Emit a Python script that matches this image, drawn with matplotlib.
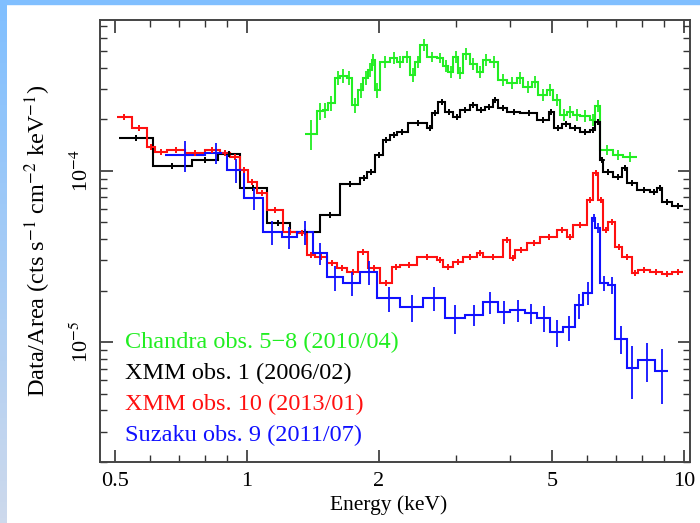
import numpy as np
import matplotlib.pyplot as plt
from matplotlib.colors import LinearSegmentedColormap
from matplotlib.ticker import FixedLocator, NullFormatter

plt.rcParams['font.family'] = ['Liberation Serif', 'DejaVu Serif']
plt.rcParams['mathtext.fontset'] = 'stix'

# %% data (bin edges in keV, flux in cts/s/cm2/keV)

red_edges = [0.504, 0.545, 0.590, 0.616, 0.656, 0.721, 0.801, 0.868, 0.914, 0.964,
             1.005, 1.054, 1.111, 1.209, 1.301, 1.372, 1.431, 1.524, 1.607, 1.694,
             1.795, 1.892, 2.015, 2.147, 2.240, 2.449, 2.722, 2.809, 2.961, 3.120,
             3.359, 3.467, 3.854, 3.999, 4.106, 4.373, 4.683, 5.122, 5.400, 5.572,
             5.998, 6.191, 6.356, 6.526, 6.700, 6.952, 7.213, 7.603, 7.846, 8.360,
             8.906, 9.387, 9.947]
red_flux = [2.07e-4, 1.78e-4, 1.38e-4, 1.29e-4, 1.33e-4, 1.27e-4, 1.33e-4, 1.27e-4, 1.21e-4,
            1.01e-4, 8.62e-5, 7.43e-5, 5.92e-5, 4.40e-5, 4.34e-5, 3.23e-5, 3.14e-5, 2.90e-5,
            2.71e-5, 2.57e-5, 3.36e-5, 2.71e-5, 2.21e-5, 2.75e-5, 2.82e-5, 3.14e-5, 3.02e-5,
            2.75e-5, 2.94e-5, 3.14e-5, 3.31e-5, 3.14e-5, 3.95e-5, 3.10e-5, 3.45e-5, 3.79e-5,
            4.11e-5, 4.52e-5, 4.11e-5, 4.83e-5, 6.77e-5, 9.74e-5, 6.77e-5, 4.52e-5, 5.04e-5,
            3.60e-5, 3.14e-5, 2.53e-5, 2.64e-5, 2.57e-5, 2.50e-5, 2.57e-5]

black_edges = [0.509, 0.609, 0.748, 0.858, 0.964, 1.111, 1.254, 1.469, 1.633, 1.814,
               1.882, 1.963, 2.047, 2.125, 2.204, 2.336, 2.582, 2.651, 2.736, 2.839,
               2.961, 3.073, 3.237, 3.359, 3.504, 3.655, 3.753, 3.936, 4.216, 4.610,
               4.91, 5.04, 5.258, 5.486, 5.781, 6.094, 6.256, 6.424, 6.526, 6.879,
               7.213, 7.405, 7.806, 8.360, 8.675, 8.906, 9.387, 9.947]
black_flux = [1.56e-4, 1.07e-4, 1.16e-4, 1.26e-4, 7.96e-5, 4.97e-5, 4.40e-5, 5.53e-5, 8.40e-5,
              9.10e-5, 9.87e-5, 1.24e-4, 1.52e-4, 1.62e-4, 1.69e-4, 1.91e-4, 1.78e-4, 2.18e-4,
              2.53e-4, 2.21e-4, 2.07e-4, 2.27e-4, 2.43e-4, 2.27e-4, 2.37e-4, 2.60e-4, 2.34e-4,
              2.21e-4, 2.18e-4, 1.99e-4, 2.21e-4, 1.78e-4, 1.88e-4, 1.78e-4, 1.69e-4, 1.74e-4,
              1.93e-4, 1.16e-4, 9.87e-5, 9.22e-5, 1.04e-4, 8.51e-5, 7.74e-5, 7.54e-5, 7.96e-5,
              6.59e-5, 6.24e-5]

blue_edges = [0.649, 0.801, 0.900, 0.985, 1.088, 1.202, 1.301, 1.416, 1.524, 1.659,
              1.814, 1.984, 2.240, 2.528, 2.839, 3.153, 3.467, 3.753, 3.999, 4.328,
              4.610, 4.936, 5.286, 5.633, 5.875, 6.159, 6.256, 6.424, 6.700, 6.952,
              7.405, 7.846, 8.584, 9.191]
blue_flux = [1.24e-4, 1.27e-4, 1.01e-4, 6.95e-5, 4.40e-5, 4.11e-5, 4.40e-5, 3.31e-5, 2.40e-5,
             2.21e-5, 2.57e-5, 1.81e-5, 1.60e-5, 1.81e-5, 1.38e-5, 1.44e-5, 1.71e-5, 1.50e-5,
             1.54e-5, 1.48e-5, 1.38e-5, 1.14e-5, 1.22e-5, 1.64e-5, 1.94e-5, 5.31e-5, 4.64e-5,
             2.21e-5, 2.16e-5, 1.05e-5, 7.05e-6, 7.85e-6, 6.77e-6]
blue_err = [2.5e-5, 1.8e-5, 1.6e-5, 1.0e-5, 7e-6, 6e-6, 7e-6, 5e-6, 4e-6,
            3.5e-6, 4e-6, 3e-6, 2.8e-6, 2.8e-6, 2.6e-6, 2e-6, 2.5e-6, 2.3e-6,
            2.3e-6, 2e-6, 2.4e-6, 2e-6, 2e-6, 2.8e-6, 3e-6, 3e-6, 3e-6,
            2.2e-6, 2.5e-6, 2e-6, 2.4e-6, 2e-6, 2.4e-6]

green_edges = [1.358, 1.446, 1.493, 1.532, 1.590, 1.633, 1.690, 1.739, 1.795, 1.843,
               1.892, 1.932, 1.963, 2.015, 2.125, 2.204, 2.275, 2.361, 2.424, 2.488,
               2.582, 2.722, 2.809, 2.884, 2.961, 3.040, 3.120, 3.237, 3.359, 3.467,
               3.598, 3.753, 3.936, 4.150, 4.283, 4.490, 4.634, 4.859, 5.015, 5.203,
               5.400, 5.572, 5.781, 6.094, 6.256, 6.424, 6.879, 7.251, 7.806]
green_flux = [1.65e-4, 2.24e-4, 2.27e-4, 2.50e-4, 3.50e-4, 3.60e-4, 3.50e-4, 2.43e-4, 2.98e-4,
              3.50e-4, 3.90e-4, 4.46e-4, 2.98e-4, 4.34e-4, 4.58e-4, 4.34e-4, 4.64e-4, 3.64e-4,
              4.34e-4, 5.45e-4, 4.64e-4, 4.58e-4, 4.11e-4, 3.79e-4, 4.64e-4, 3.74e-4, 4.84e-4,
              4.22e-4, 3.79e-4, 4.46e-4, 4.34e-4, 3.41e-4, 3.27e-4, 3.50e-4, 3.10e-4, 3.32e-4,
              2.78e-4, 2.98e-4, 2.60e-4, 2.13e-4, 2.21e-4, 2.13e-4, 2.10e-4, 1.99e-4, 2.40e-4,
              1.33e-4, 1.24e-4, 1.21e-4]
green_relerr = [0.2, 0.11, 0.1, 0.1, 0.09, 0.09, 0.09, 0.1, 0.1,
                0.09, 0.09, 0.08, 0.1, 0.08, 0.08, 0.08, 0.08, 0.09,
                0.08, 0.08, 0.07, 0.07, 0.08, 0.08, 0.08, 0.08, 0.08,
                0.08, 0.08, 0.08, 0.08, 0.08, 0.08, 0.08, 0.08, 0.08,
                0.08, 0.08, 0.08, 0.08, 0.08, 0.08, 0.08, 0.08, 0.08,
                0.07, 0.07, 0.07]

labels = ["Chandra obs. 5\u22128 (2010/04)", "XMM obs. 1 (2006/02)",
          "XMM obs. 10 (2013/01)", "Suzaku obs. 9 (2011/07)"]
colors = ["#22ee22", "black", "#ff1010", "#1010ff"]

# %%

fig = plt.figure(figsize=(7.0, 5.23), dpi=100)

# slide background bands
band = fig.add_axes([0, 0, 7 / 700, 1])
band.imshow(np.linspace(0, 1, 100)[:, None], aspect='auto',
            cmap=LinearSegmentedColormap.from_list('b', ['#80bfff', '#cdd9ec']))
band.axis('off')
fig.patches.append(plt.Rectangle((0, 1 - 4 / 523), 1, 4 / 523, transform=fig.transFigure, color='#80bfff'))

ax = fig.add_axes([100 / 700, 1 - 462 / 523, 590 / 700, 442 / 523])


def draw(edges, flux, err, color, marks=False):
    edges = np.array(edges)
    flux = np.array(flux)
    ax.stairs(flux, edges, color=color, lw=1.5, baseline=None)
    centers = np.sqrt(edges[:-1] * edges[1:])
    ax.errorbar(centers, flux, yerr=err, fmt='none', ecolor=color, elinewidth=1.3, capsize=0)
    if marks:
        ax.plot(centers, flux, '+', color=color, ms=5, mew=1.2)


draw(green_edges, green_flux, np.array(green_relerr) * np.array(green_flux), colors[0])
draw(black_edges, black_flux, 0.04 * np.array(black_flux), colors[1], marks=True)
draw(red_edges, red_flux, 0.04 * np.array(red_flux), colors[2], marks=True)
draw(blue_edges, blue_flux, blue_err, colors[3])

ax.set_xscale('log')
ax.set_yscale('log')
ax.set_xlim(0.461, 10.32)
ax.set_ylim(2.0e-6, 7.6e-4)

ax.xaxis.set_major_locator(FixedLocator([0.5, 1, 2, 5, 10]))
ax.set_xticklabels(["0.5", "1", "2", "5", "10"])
ax.xaxis.set_minor_locator(FixedLocator([0.6, 0.7, 0.8, 0.9, 3, 4, 6, 7, 8, 9]))
ax.xaxis.set_minor_formatter(NullFormatter())
ax.yaxis.set_major_locator(FixedLocator([1e-5, 1e-4]))
ax.set_yticklabels(["10$^{-5}$", "10$^{-4}$"], rotation=90, va='center')
ax.yaxis.set_minor_locator(FixedLocator([k * 1e-6 for k in range(2, 10)] + [k * 1e-5 for k in range(2, 10)]
                                        + [k * 1e-4 for k in range(2, 8)]))
ax.yaxis.set_minor_formatter(NullFormatter())

ax.tick_params(which='both', direction='in', top=True, right=True, labelsize=16, color='#333333')
ax.tick_params(which='major', length=9, width=1.2, pad=7)
ax.tick_params(axis='y', which='major', pad=5)
ax.tick_params(which='minor', length=5, width=1.0)
for s in ax.spines.values():
    s.set_color('#444444')
    s.set_linewidth(1.4)

ax.set_xlabel("Energy (keV)", fontsize=15.5, labelpad=3)
ax.set_ylabel("Data/Area (cts s$^{-1}$ cm$^{-2}$ keV$^{-1}$)", fontsize=17.5)
ax.yaxis.set_label_coords(-0.08, 0.5)
ax.xaxis.set_label_coords(0.49, -0.075)

for i, (lab, c) in enumerate(zip(labels, colors)):
    ax.text(125, 523 - (342 + 31 * i), lab, color=c, fontsize=17.5, va='center', ha='left',
            transform=None)

fig.savefig("out.png", dpi=100)
